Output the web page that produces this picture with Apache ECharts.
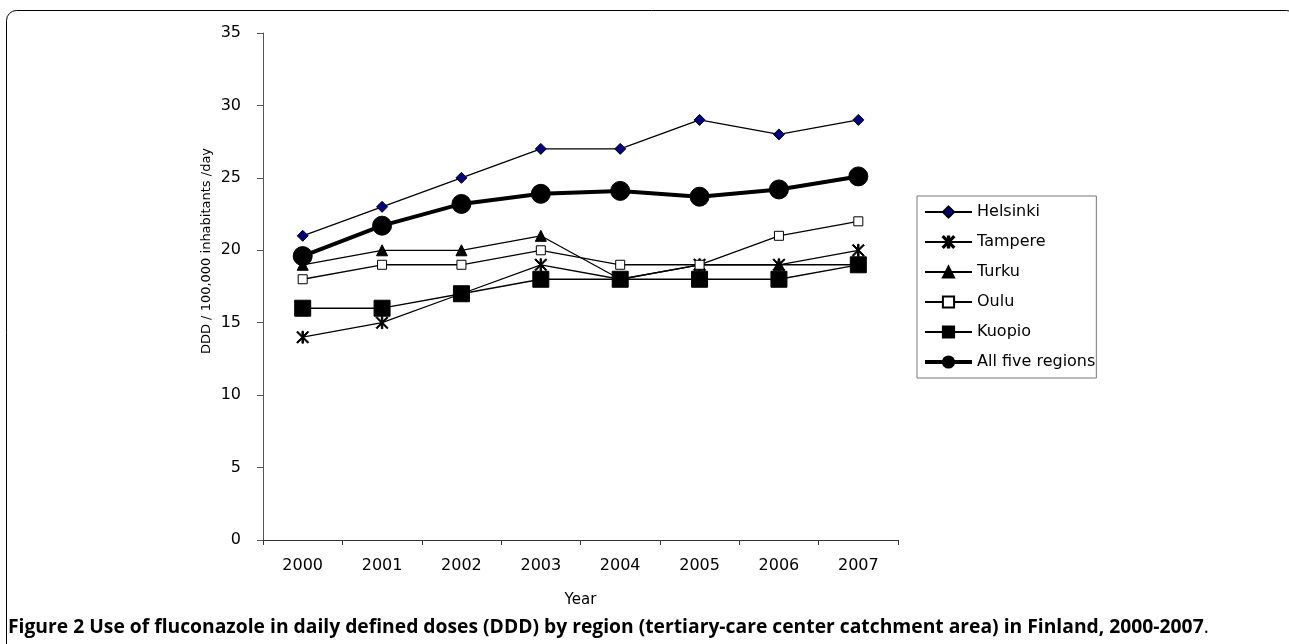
<!DOCTYPE html>
<html>

<head>
    <meta charset="utf-8" />
    <script src="https://cdn.jsdelivr.net/npm/echarts@6/dist/echarts.min.js"></script>
</head>

<body style="margin:0;background:#fff;">
    <div id="main" style="width: 1289px;height:644px;"></div>
    <script type="text/javascript">
        const YEARS = ["2000", "2001", "2002", "2003", "2004", "2005", "2006", "2007"];
        const HELSINKI = [21, 23, 25, 27, 27, 29, 28, 29];
        const TAMPERE = [14, 15, 17, 19, 18, 19, 19, 20];
        const TURKU = [19, 20, 20, 21, 18, 19, 19, 19];
        const OULU = [18, 19, 19, 20, 19, 19, 21, 22];
        const KUOPIO = [16, 16, 17, 18, 18, 18, 18, 19];
        const ALL_FIVE = [19.6, 21.7, 23.2, 23.9, 24.1, 23.7, 24.2, 25.1];

        // asterisk made of thin bars (X plus vertical stroke)
        const ASTERISK = 'path://M4.4 0 L5.6 0 L5.6 10 L4.4 10 Z M0 0.8 L0.8 0 L10 9.2 L9.2 10 Z M9.2 0 L10 0.8 L0.8 10 L0 9.2 Z';

        const FONT = '"DejaVu Sans", Verdana, sans-serif';

        function lineSeries(name, data, symbol, size, fill, width) {
            return {
                name: name,
                type: 'line',
                data: data,
                symbol: symbol,
                symbolSize: size,
                showAllSymbol: true,
                lineStyle: { color: '#000', width: width || 1.3 },
                itemStyle: { color: fill, borderColor: '#000', borderWidth: 1 },
                emphasis: { disabled: true },
                z: 2
            };
        }

        const myChart = echarts.init(document.getElementById('main'));
        myChart.setOption({
            animation: false,
            grid: { left: 263, right: 391, top: 33, bottom: 104 },
            xAxis: {
                type: 'category',
                data: YEARS,
                boundaryGap: true,
                name: 'Year',
                nameLocation: 'middle',
                nameGap: 53,
                nameTextStyle: { fontFamily: FONT, fontSize: 15, color: '#000' },
                axisLine: { lineStyle: { color: '#333', width: 1 } },
                axisTick: { show: true, length: 5, lineStyle: { color: '#333' } },
                axisLabel: { fontFamily: FONT, fontSize: 16, color: '#000', margin: 18 }
            },
            yAxis: {
                type: 'value',
                min: 0,
                max: 35,
                interval: 5,
                splitLine: { show: false },
                axisLine: { show: true, lineStyle: { color: '#555', width: 1 } },
                axisTick: { show: true, length: 6, lineStyle: { color: '#555' } },
                axisLabel: { fontFamily: FONT, fontSize: 16, color: '#000', margin: 22 }
            },
            legend: {
                orient: 'vertical',
                left: 917,
                top: 196,
                padding: [8, 1, 8, 6],
                itemWidth: 47,
                itemHeight: 14,
                itemGap: 14,
                borderColor: '#777',
                borderWidth: 1,
                borderRadius: 0,
                textStyle: { fontFamily: FONT, fontSize: 16, color: '#000' },
                data: [
                    'Helsinki', 'Tampere', 'Turku', 'Oulu', 'Kuopio',
                    { name: 'All five regions', lineStyle: { width: 4 } }
                ]
            },
            graphic: [
                {
                    type: 'rect',
                    shape: { x: 6.5, y: 10.5, width: 1290, height: 700, r: [10, 10, 0, 0] },
                    style: { fill: 'none', stroke: '#000', lineWidth: 1 },
                    silent: true
                },
                {
                    type: 'text',
                    x: 207,
                    y: 251,
                    rotation: Math.PI / 2,
                    style: {
                        text: 'DDD / 100,000 inhabitants /day',
                        font: '13px "DejaVu Sans", sans-serif',
                        fill: '#000',
                        align: 'center',
                        verticalAlign: 'middle'
                    }
                },
                {
                    type: 'text',
                    x: 8,
                    y: 628,
                    style: {
                        text: '{b|Figure 2 Use of fluconazole in daily defined doses (DDD) by region (tertiary-care center catchment area) in Finland, 2000-2007}{n|.}',
                        verticalAlign: 'middle',
                        fill: '#000',
                        rich: {
                            b: { fontWeight: 'bold', fontFamily: '"Open Sans", sans-serif', fontSize: 19.3 },
                            n: { fontFamily: '"Open Sans", sans-serif', fontSize: 19.3 }
                        }
                    }
                }
            ],
            series: [
                lineSeries('Helsinki', HELSINKI, 'diamond', 11, '#000080'),
                lineSeries('Tampere', TAMPERE, ASTERISK, 12, '#000'),
                lineSeries('Turku', TURKU, 'triangle', 11, '#000'),
                lineSeries('Oulu', OULU, 'rect', 9, '#fff'),
                lineSeries('Kuopio', KUOPIO, 'rect', 16, '#000'),
                lineSeries('All five regions', ALL_FIVE, 'circle', 19, '#000', 4)
            ]
        });
    </script>
</body>

</html>
